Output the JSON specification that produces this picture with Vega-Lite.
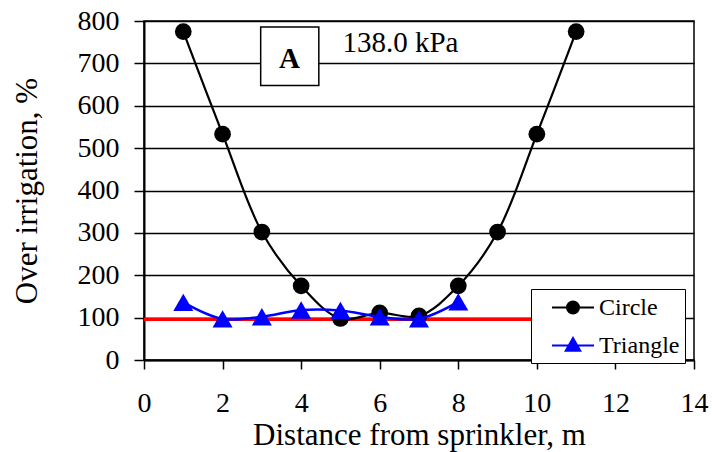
{
  "$schema": "https://vega.github.io/schema/vega-lite/v6.json",
  "width": 550,
  "height": 339,
  "autosize": "none",
  "padding": {"left": 144, "top": 21, "right": 18, "bottom": 92},
  "background": "white",
  "config": {
    "font": "Liberation Serif",
    "view": {"stroke": "black", "strokeWidth": 1.5},
    "text": {"font": "Liberation Serif"},
    "legend": {"labelFont": "Liberation Serif"},
    "axis": {"labelFont": "Liberation Serif", "titleFont": "Liberation Serif", "labelColor": "black", "titleColor": "black", "titleFontWeight": "normal", "labelFlush": false}
  },
  "datasets": {
    "series": [
      {"series": "Circle", "x": 1, "y": 775},
      {"series": "Circle", "x": 2, "y": 533},
      {"series": "Circle", "x": 3, "y": 302},
      {"series": "Circle", "x": 4, "y": 175},
      {"series": "Circle", "x": 5, "y": 98},
      {"series": "Circle", "x": 6, "y": 111},
      {"series": "Circle", "x": 7, "y": 104},
      {"series": "Circle", "x": 8, "y": 175},
      {"series": "Circle", "x": 9, "y": 302},
      {"series": "Circle", "x": 10, "y": 533},
      {"series": "Circle", "x": 11, "y": 775},
      {"series": "Triangle", "x": 1, "y": 136},
      {"series": "Triangle", "x": 2, "y": 97},
      {"series": "Triangle", "x": 3, "y": 102},
      {"series": "Triangle", "x": 4, "y": 118},
      {"series": "Triangle", "x": 5, "y": 117},
      {"series": "Triangle", "x": 6, "y": 102},
      {"series": "Triangle", "x": 7, "y": 97},
      {"series": "Triangle", "x": 8, "y": 137}
    ],
    "reference": [
      {"x": 0, "y": 96},
      {"x": 10, "y": 96}
    ],
    "box": [
      {"x": 2.97, "x2": 4.45, "y": 648, "y2": 786}
    ],
    "labels": [
      {"x": 3.7, "y": 690, "text": "A"}
    ],
    "pressure": [
      {"x": 5.05, "y": 728, "text": "138.0 kPa"}
    ]
  },
  "layer": [
    {
      "data": {"name": "reference"},
      "mark": {"type": "line", "color": "#FF0000", "strokeWidth": 3.5},
      "encoding": {
        "x": {
          "field": "x", "type": "quantitative",
          "scale": {"domain": [0, 14], "nice": false, "zero": false},
          "axis": {
            "title": "Distance from sprinkler, m",
            "values": [0, 2, 4, 6, 8, 10, 12, 14],
            "grid": false,
            "domainColor": "black", "domainWidth": 2,
            "tickColor": "black", "tickWidth": 1.5, "tickSize": 9,
            "labelFontSize": 28, "labelPadding": 20,
            "titleFontSize": 31, "titlePadding": 3
          }
        },
        "y": {
          "field": "y", "type": "quantitative",
          "scale": {"domain": [0, 800], "nice": false},
          "axis": {
            "title": "Over irrigation, %",
            "values": [0, 100, 200, 300, 400, 500, 600, 700, 800],
            "grid": true, "gridColor": "black", "gridWidth": 1.5, "gridOpacity": 1,
            "domainColor": "black", "domainWidth": 2,
            "tickColor": "black", "tickWidth": 1.5, "tickSize": 10,
            "labelFontSize": 28, "labelPadding": 15,
            "titleFontSize": 31, "titlePadding": 34
          }
        }
      }
    },
    {
      "data": {"name": "series"},
      "transform": [{"filter": "datum.series === 'Circle'"}],
      "mark": {"type": "line", "interpolate": "catmull-rom", "strokeWidth": 2.2},
      "encoding": {
        "x": {"field": "x", "type": "quantitative"},
        "y": {"field": "y", "type": "quantitative"},
        "color": {
          "field": "series", "type": "nominal",
          "scale": {"domain": ["Circle", "Triangle"], "range": ["black", "#0000FF"]},
          "legend": {
            "orient": "none", "legendX": 387, "legendY": 268,
            "title": null,
            "padding": 5, "rowPadding": 12,
            "symbolSize": 625, "symbolStrokeWidth": 2,
            "labelOffset": 36, "labelFont": "Liberation Serif", "labelFontSize": 24, "labelColor": "black",
            "labelExpr": "datum.label + ' '",
            "strokeColor": "black", "fillColor": "white", "cornerRadius": 0,
            "encode": {
              "symbols": {
                "update": {
                  "shape": {"signal": "datum.value === 'Circle' ? 'M0.2,0H3.56M2.36,0A0.48,0.48 0 1 1 1.4,0A0.48,0.48 0 1 1 2.36,0Z' : 'M0.2,0H3.56M1.88,-0.6L2.46,0.42L1.3,0.42Z'"},
                  "fill": {"signal": "datum.value === 'Circle' ? 'black' : '#0000FF'"},
                  "fillOpacity": {"value": 1}
                }
              }
            }
          }
        }
      }
    },
    {
      "data": {"name": "series"},
      "transform": [{"filter": "datum.series === 'Circle'"}],
      "mark": {"type": "point", "shape": "circle", "filled": true, "size": 280, "color": "black", "opacity": 1},
      "encoding": {
        "x": {"field": "x", "type": "quantitative"},
        "y": {"field": "y", "type": "quantitative"}
      }
    },
    {
      "data": {"name": "series"},
      "transform": [{"filter": "datum.series === 'Triangle'"}],
      "mark": {"type": "line", "interpolate": "catmull-rom", "strokeWidth": 2.5},
      "encoding": {
        "x": {"field": "x", "type": "quantitative"},
        "y": {"field": "y", "type": "quantitative"},
        "color": {"field": "series", "type": "nominal"}
      }
    },
    {
      "data": {"name": "series"},
      "transform": [{"filter": "datum.series === 'Triangle'"}],
      "mark": {"type": "point", "shape": "triangle-up", "filled": true, "size": 400, "color": "#0000FF", "opacity": 1},
      "encoding": {
        "x": {"field": "x", "type": "quantitative"},
        "y": {"field": "y", "type": "quantitative"}
      }
    },
    {
      "data": {"name": "box"},
      "mark": {"type": "rect", "fill": "white", "stroke": "black", "strokeWidth": 1.5},
      "encoding": {
        "x": {"field": "x", "type": "quantitative"},
        "x2": {"field": "x2"},
        "y": {"field": "y", "type": "quantitative"},
        "y2": {"field": "y2"}
      }
    },
    {
      "data": {"name": "labels"},
      "mark": {"type": "text", "font": "Liberation Serif", "fontSize": 29, "fontWeight": "bold", "align": "center", "baseline": "alphabetic", "color": "black"},
      "encoding": {
        "x": {"field": "x", "type": "quantitative"},
        "y": {"field": "y", "type": "quantitative"},
        "text": {"field": "text"}
      }
    },
    {
      "data": {"name": "pressure"},
      "mark": {"type": "text", "font": "Liberation Serif", "fontSize": 29, "align": "left", "baseline": "alphabetic", "color": "black"},
      "encoding": {
        "x": {"field": "x", "type": "quantitative"},
        "y": {"field": "y", "type": "quantitative"},
        "text": {"field": "text"}
      }
    }
  ]
}
